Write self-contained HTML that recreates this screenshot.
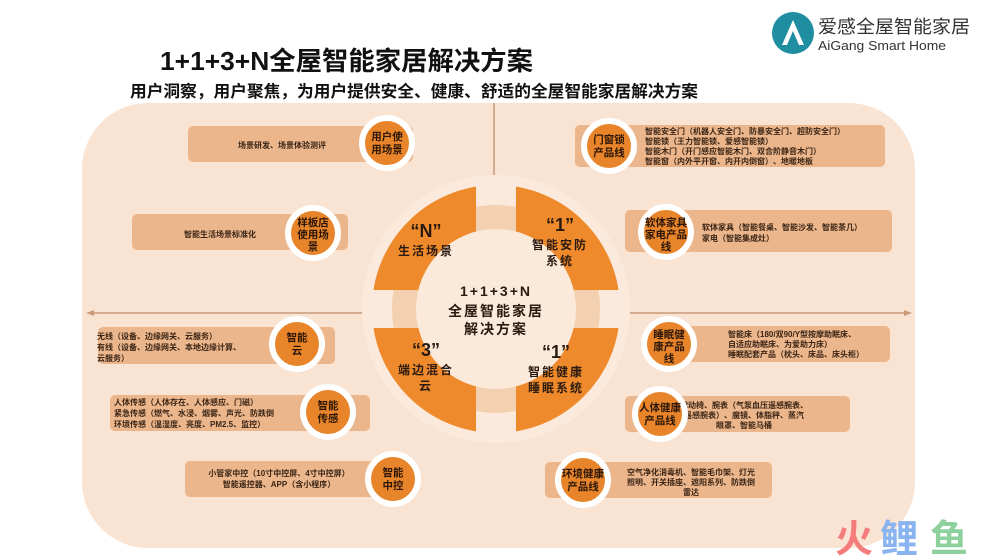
<!DOCTYPE html>
<html><head><meta charset="utf-8"><style>
html,body{margin:0;padding:0;background:#fff;}
svg{display:block;}
text{font-family:"Liberation Sans","Noto Sans CJK SC",sans-serif;}
</style></head><body>
<svg width="1000" height="559" viewBox="0 0 1000 559" xmlns="http://www.w3.org/2000/svg">
<rect width="1000" height="559" fill="#fff"/>
<rect x="82" y="103" width="833" height="445" rx="66" fill="#f9e4d4"/>
<line x1="88" y1="313" x2="908" y2="313" stroke="#c99a78" stroke-width="1.5"/>
<polygon points="86,313 94,310 94,316" fill="#c99a78"/>
<polygon points="912,313 904,310 904,316" fill="#c99a78"/>
<line x1="494" y1="103" x2="494" y2="190" stroke="#c99a78" stroke-width="1.5"/>
<circle cx="496" cy="309" r="134" fill="#fbeadc"/>
<circle cx="496" cy="309" r="104" fill="#f2d0b0"/>
<clipPath id="q"><rect x="360" y="180" width="116" height="110"/><rect x="516" y="180" width="116" height="110"/><rect x="360" y="328" width="116" height="110"/><rect x="516" y="328" width="116" height="110"/></clipPath>
<circle cx="496" cy="309" r="124" fill="#ef8a2c" clip-path="url(#q)"/>
<circle cx="496" cy="309" r="80" fill="#fbe9da"/>
<g font-weight="bold" fill="#2b1a10" text-anchor="middle">
<text x="426" y="237" font-size="18">“N”</text>
<text x="426" y="255" font-size="12" letter-spacing="2">生活场景</text>
<text x="560" y="231" font-size="18">“1”</text>
<text x="560" y="249" font-size="12" letter-spacing="2">智能安防</text>
<text x="560" y="265" font-size="12" letter-spacing="2">系统</text>
<text x="426" y="356" font-size="18">“3”</text>
<text x="426" y="374" font-size="12" letter-spacing="2">端边混合</text>
<text x="426" y="390" font-size="12" letter-spacing="2">云</text>
<text x="556" y="358" font-size="18">“1”</text>
<text x="556" y="376" font-size="12" letter-spacing="2">智能健康</text>
<text x="556" y="392" font-size="12" letter-spacing="2">睡眠系统</text>
<text x="496" y="296" font-size="14" letter-spacing="2">1+1+3+N</text>
<text x="496" y="316" font-size="14" letter-spacing="2">全屋智能家居</text>
<text x="496" y="334" font-size="14" letter-spacing="2">解决方案</text>
</g>
<g fill="#ebb68c">
<rect x="188" y="126" width="225" height="36" rx="5"/>
<rect x="132" y="214" width="216" height="36" rx="5"/>
<rect x="98" y="327" width="237" height="37" rx="5"/>
<rect x="110" y="395" width="260" height="36" rx="5"/>
<rect x="185" y="461" width="200" height="36" rx="5"/>
<rect x="575" y="125" width="310" height="42" rx="5"/>
<rect x="625" y="210" width="267" height="42" rx="5"/>
<rect x="652" y="326" width="238" height="36" rx="5"/>
<rect x="625" y="396" width="225" height="36" rx="5"/>
<rect x="545" y="462" width="227" height="36" rx="5"/>
</g>
<g fill="#3a2414" font-size="8" font-weight="bold">
<text x="238" y="148">场景研发、场景体验测评</text>
<text x="184" y="237">智能生活场景标准化</text>
<text x="97" y="339">无线（设备、边缘网关、云服务）</text>
<text x="97" y="350">有线（设备、边缘网关、本地边缘计算、</text>
<text x="97" y="361">云服务）</text>
<text x="114" y="405">人体传感（人体存在、人体感应、门磁）</text>
<text x="114" y="416">紧急传感（燃气、水浸、烟雾、声光、防跌倒</text>
<text x="114" y="427">环境传感（温湿度、亮度、PM2.5、监控）</text>
<text x="279" y="476" text-anchor="middle">小管家中控（10寸中控屏、4寸中控屏）</text>
<text x="279" y="487" text-anchor="middle">智能遥控器、APP（含小程序）</text>
<text x="645" y="134">智能安全门（机器人安全门、防暴安全门、超防安全门）</text>
<text x="645" y="144">智能锁（王力智能锁、爱感智能锁）</text>
<text x="645" y="154">智能木门（开门感应智能木门、双合阶静音木门）</text>
<text x="645" y="164">智能窗（内外平开窗、内开内倒窗）、地暖地板</text>
<text x="702" y="230">软体家具（智能餐桌、智能沙发、智能茶几）</text>
<text x="702" y="241">家电（智能集成灶）</text>
<text x="728" y="337">智能床（180/双90/Y型按摩助眠床、</text>
<text x="728" y="347">自适应助眠床、为爱助力床）</text>
<text x="728" y="357">睡眠配套产品（枕头、床品、床头柜）</text>
<text x="744" y="408" text-anchor="middle">律动椅、腕表（气泵血压遥感腕表、</text>
<text x="744" y="418" text-anchor="middle">遥感腕表）、魔镜、体脂秤、蒸汽</text>
<text x="744" y="428" text-anchor="middle">眼罩、智能马桶</text>
<text x="691" y="475" text-anchor="middle">空气净化消毒机、智能毛巾架、灯光</text>
<text x="691" y="485" text-anchor="middle">照明、开关插座、遮阳系列、防跌倒</text>
<text x="691" y="495" text-anchor="middle">雷达</text>
</g>
<g fill="#e8842a" stroke="#fff" stroke-width="6">
<circle cx="387" cy="143" r="25"/>
<circle cx="313" cy="233" r="25"/>
<circle cx="297" cy="344" r="25"/>
<circle cx="328" cy="412" r="25"/>
<circle cx="393" cy="479" r="25"/>
<circle cx="609" cy="146" r="25"/>
<circle cx="666" cy="232" r="25"/>
<circle cx="669" cy="344" r="25"/>
<circle cx="660" cy="414" r="25"/>
<circle cx="583" cy="480" r="25"/>
</g>
<g fill="#2b1608" font-size="10.5" font-weight="bold" text-anchor="middle">
<text x="387" y="140">用户使</text><text x="387" y="153">用场景</text>
<text x="313" y="226">样板店</text><text x="313" y="238">使用场</text><text x="313" y="250">景</text>
<text x="297" y="341">智能</text><text x="297" y="354">云</text>
<text x="328" y="409">智能</text><text x="328" y="422">传感</text>
<text x="393" y="476">智能</text><text x="393" y="489">中控</text>
<text x="609" y="143">门窗锁</text><text x="609" y="156">产品线</text>
<text x="666" y="226">软体家具</text><text x="666" y="238">家电产品</text><text x="666" y="250">线</text>
<text x="669" y="338">睡眠健</text><text x="669" y="350">康产品</text><text x="669" y="362">线</text>
<text x="660" y="411">人体健康</text><text x="660" y="424">产品线</text>
<text x="583" y="477">环境健康</text><text x="583" y="490">产品线</text>
</g>
<text x="160" y="70" font-size="26" font-weight="bold" fill="#111" textLength="373" lengthAdjust="spacingAndGlyphs">1+1+3+N全屋智能家居解决方案</text>
<text x="130" y="97" font-size="16.5" font-weight="bold" fill="#111" textLength="568" lengthAdjust="spacingAndGlyphs">用户洞察，用户聚焦，为用户提供安全、健康、舒适的全屋智能家居解决方案</text>
<circle cx="793" cy="33" r="21" fill="#1e8ea0"/>
<path d="M782,45 L793,20 L804,45 L799,45 L793,31 L787,45 Z" fill="#fff"/>
<text x="818" y="33" font-size="18" fill="#333" textLength="152" lengthAdjust="spacingAndGlyphs">爱感全屋智能家居</text>
<text x="818" y="50" font-size="13" fill="#333" textLength="128" lengthAdjust="spacingAndGlyphs">AiGang Smart Home</text>
<text x="835" y="552" font-size="38" font-weight="bold" fill="#f47c7c">火</text>
<text x="880" y="552" font-size="38" font-weight="bold" fill="#8ab4f0">鲤</text>
<text x="930" y="552" font-size="38" font-weight="bold" fill="#8fd19e">鱼</text>
</svg>
</body></html>
